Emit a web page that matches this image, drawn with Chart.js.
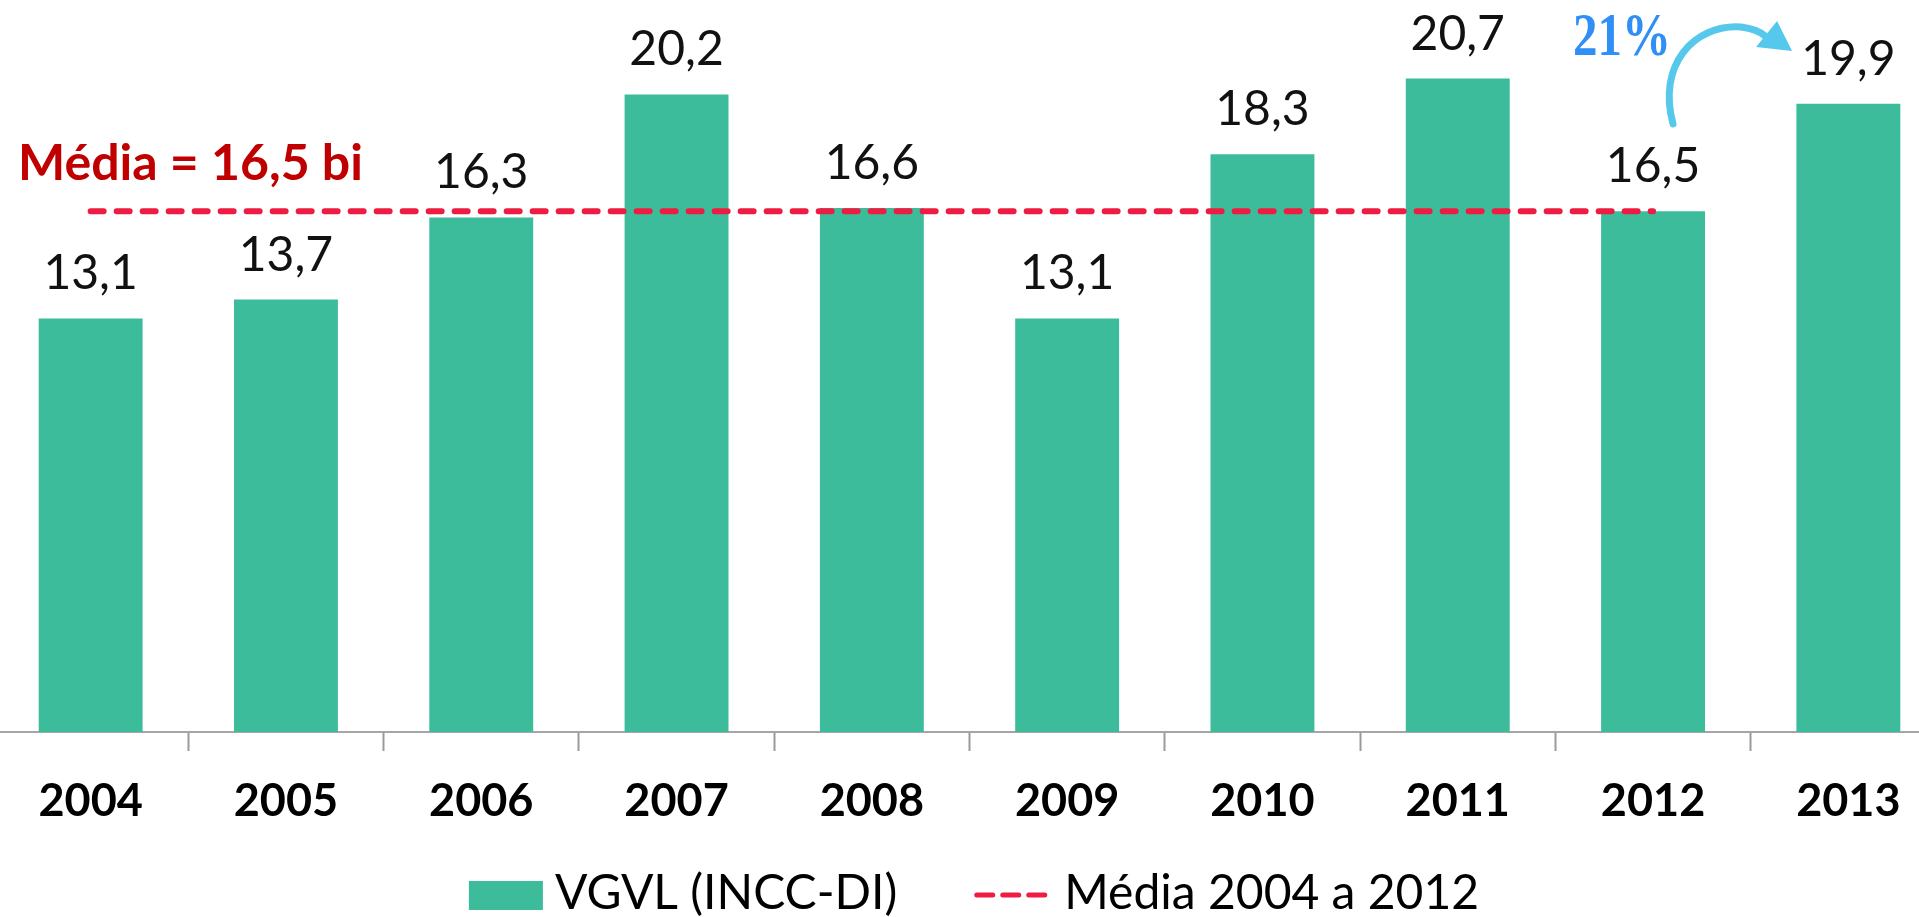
<!DOCTYPE html>
<html>
<head>
<meta charset="utf-8">
<script src="https://cdn.jsdelivr.net/npm/chart.js@4.4.0/dist/chart.umd.min.js"></script>
<style>
  html, body { margin: 0; padding: 0; background: #fff; overflow: hidden; }
  #wrap { position: absolute; left: -30px; top: 0; width: 2000px; height: 917px; }
</style>
</head>
<body>
<div id="wrap"><canvas id="chart"></canvas></div>
<script>
// values (R$ bi)
const years = ['2004', '2005', '2006', '2007', '2008', '2009', '2010', '2011', '2012', '2013'];
const vgvl = [13.1, 13.7, 16.3, 20.2, 16.6, 13.1, 18.3, 20.7, 16.5, 19.9];
const media = [16.5, 16.5, 16.5, 16.5, 16.5, 16.5, 16.5, 16.5, 16.5, null];
const mediaText = 'Média = 16,5 bi';
const growthText = '21%';

const green = '#3dbc9c';
const red = '#ee1c42';

function fmt(v) {
  return v.toFixed(1).replace('.', ',');
}

// numbers above each bar
const barLabels = {
  id: 'barLabels',
  afterDatasetsDraw(chart) {
    const ctx = chart.ctx;
    const meta = chart.getDatasetMeta(0);
    ctx.save();
    ctx.font = '48px Lato';
    ctx.fillStyle = '#111';
    ctx.textAlign = 'center';
    ctx.textBaseline = 'alphabetic';
    meta.data.forEach((bar, i) => {
      ctx.fillText(fmt(vgvl[i]), bar.x, bar.y - 29);
    });
    ctx.restore();
  }
};

// "Média = 16,5 bi" text and the 21% arrow
const notes = {
  id: 'notes',
  afterDraw(chart) {
    const ctx = chart.ctx;
    const y = chart.scales.y;
    const bars = chart.getDatasetMeta(0).data;
    const top = chart.chartArea.top;
    ctx.save();

    ctx.font = 'bold 50px Lato';
    ctx.fillStyle = '#c00000';
    ctx.textAlign = 'left';
    ctx.fillText(mediaText, 48, y.getPixelForValue(media[0]) - 31);

    const bx = bars[8].x;
    ctx.font = 'bold 62px "Liberation Serif"';
    ctx.fillStyle = '#2f8ff5';
    ctx.fillText(growthText, bx - 80, top + 49, 98);

    // curved arrow
    ctx.strokeStyle = '#56c8ec';
    ctx.fillStyle = '#56c8ec';
    ctx.lineWidth = 7;
    ctx.lineCap = 'round';
    ctx.beginPath();
    ctx.moveTo(bx + 20, top + 118);
    ctx.bezierCurveTo(bx + 4, top + 60, bx + 40, top + 18, bx + 88, top + 21);
    ctx.quadraticCurveTo(bx + 104, top + 23, bx + 112, top + 30);
    ctx.stroke();
    ctx.beginPath();
    ctx.moveTo(bx + 139, top + 45);
    ctx.lineTo(bx + 124, top + 15);
    ctx.lineTo(bx + 103, top + 41);
    ctx.closePath();
    ctx.fill();
    ctx.restore();
  }
};

// legend drawn by hand so box/dash spacing matches
const legendBox = {
  id: 'legendBox',
  afterDraw(chart) {
    const ctx = chart.ctx;
    const ds = chart.data.datasets;
    ctx.save();
    ctx.font = '48px Lato';
    const w0 = ctx.measureText(ds[0].label).width;
    const w1 = ctx.measureText(ds[1].label).width;
    const total = 74 + 12 + w0 + 77 + 73 + 17 + w1;
    let x = 1004 - total / 2;
    const base = 909;

    ctx.fillStyle = ds[0].backgroundColor;
    ctx.fillRect(x, 881, 74, 29);
    x += 74 + 12;
    ctx.fillStyle = '#000';
    ctx.fillText(ds[0].label, x, base);
    x += w0 + 77;

    ctx.strokeStyle = ds[1].borderColor;
    ctx.lineWidth = 5;
    ctx.lineCap = 'round';
    ctx.setLineDash([16, 10]);
    ctx.beginPath();
    ctx.moveTo(x + 2.5, 895);
    ctx.lineTo(x + 73, 895);
    ctx.stroke();
    x += 73 + 17;
    ctx.fillText(ds[1].label, x, base);
    ctx.restore();
  }
};

const ctx = document.getElementById('chart').getContext('2d');
new Chart(ctx, {
  type: 'bar',
  data: {
    labels: years,
    datasets: [
      {
        label: 'VGVL (INCC-DI)',
        data: vgvl,
        backgroundColor: green,
        barPercentage: 0.532,
        categoryPercentage: 1,
        order: 1
      },
      {
        type: 'line',
        label: 'Média 2004 a 2012',
        data: media,
        borderColor: red,
        backgroundColor: red,
        borderWidth: 6,
        borderDash: [13, 13],
        borderCapStyle: 'round',
        pointRadius: 0,
        fill: false,
        spanGaps: false,
        order: 0
      }
    ]
  },
  options: {
    responsive: true,
    maintainAspectRatio: false,
    animation: false,
    layout: { padding: { left: 23, right: 24, top: 6, bottom: 66 } },
    plugins: {
      legend: { display: false },
      tooltip: { enabled: false }
    },
    scales: {
      x: {
        grid: { display: true, drawOnChartArea: false, offset: true, tickLength: 19, tickWidth: 2, tickColor: '#9a9a9a' },
        border: { display: true, color: '#a6a6a6', width: 2 },
        ticks: { color: '#000', padding: 23, font: { family: 'Lato', size: 45, weight: 'bold' } }
      },
      y: { display: false, min: 0, max: 23 }
    }
  },
  plugins: [barLabels, notes, legendBox]
});
</script>
</body>
</html>
